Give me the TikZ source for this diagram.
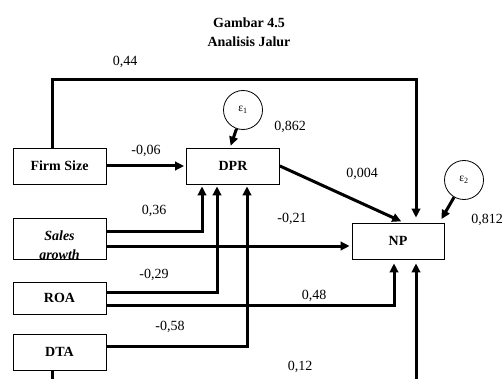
\documentclass[tikz,border=0pt]{standalone}
\usepackage{fontspec}
\setmainfont{Liberation Serif}
\usetikzlibrary{arrows.meta}
\newcommand{\Txt}{\fontsize{14}{19}\selectfont}

\begin{document}
\begin{tikzpicture}
[   x=1pt, y=-1pt,
    var/.style={draw, line width=0.8pt, minimum width=93pt, minimum height=36pt, inner sep=0, font=\Txt\bfseries},
    err/.style={draw, circle, line width=0.8pt, minimum size=39pt, inner sep=0, font=\fontsize{11.5}{13}\selectfont},
    coef/.style={inner sep=0, font=\Txt},
    arr/.style={line width=3pt, -{Triangle[length=9pt,width=8.5pt]}, shorten >=2pt},
    link/.style={line width=3pt}
]
    \useasboundingbox (0,0) rectangle (502,379);

    \node[font=\Txt\bfseries] (title) at (249,23) {Gambar 4.5};
    \node[font=\Txt\bfseries] (subtitle) at (249,42) {Analisis Jalur};

    % variables
    \node[var] (FS) at (59.5,166) {Firm Size};
    \node[var] (DPR) at (233,166) {DPR};
    \begin{scope}
        \clip (13,218) rectangle (106,259);
        \node[font=\Txt\bfseries\itshape, align=center, inner sep=0] (SGtext) at (59.5,246.5) {Sales\\growth};
    \end{scope}
    \node[var, minimum height=41pt] (SG) at (59.5,238.5) {};
    \node[var, minimum height=32pt] (ROA) at (59.5,298) {ROA};
    \node[var] (DTA) at (59.5,352) {DTA};
    \node[var, minimum width=92pt] (NP) at (398,241) {NP};

    % errors
    \node[err] (e1) at (243,110) {ε\textsubscript{1}};
    \node[err] (e2) at (464,180) {ε\textsubscript{2}};

    % free ends below the page
    \coordinate (dtaout) at (52,382);
    \coordinate (npin) at (416,382);
    \coordinate (sgnp) at ([yshift=-5pt]NP.west);

    % paths
    \draw[arr, shorten >=5pt] ([xshift=-7.5pt]FS.north) -- ++(0,-68) -| ([xshift=18pt]NP.north);
    \draw[arr] (FS) -- (DPR);
    \draw[arr] (e1) -- ([xshift=-3pt]DPR.north);
    \draw[arr, shorten >=3pt] (DPR.east) -- ([xshift=6pt]NP.north);
    \draw[arr, shorten >=4pt] (e2) -- ([xshift=-5pt]NP.north east);
    \draw[arr] ([yshift=7.5pt]SG.east) -| ([xshift=-31pt]DPR.south);
    \draw[arr] (SG.east |- sgnp) -- (sgnp);
    \draw[arr] ([yshift=6pt]ROA.east) -| ([xshift=-16pt]DPR.south);
    \draw[arr, shorten >=4pt] ([yshift=-7.5pt]ROA.east) -| ([xshift=-4pt]NP.south);
    \draw[arr] ([yshift=6pt]DTA.east) -| ([xshift=14pt]DPR.south);
    \draw[link] ([xshift=-7.5pt]DTA.south) -- (dtaout);
    \draw[arr, shorten >=4pt] (npin) -- ([xshift=18pt]NP.south);

    % coefficients
    \foreach \n/\x/\y/\v in {c1/125/62/{0,44}, c2/290/127/{0,862}, c3/146/151/{-0,06},
        c4/362/174/{0,004}, c5/154/211/{0,36}, c6/292/219/{-0,21}, c7/487/220/{0,812},
        c8/154/275/{-0,29}, c9/314/296/{0,48}, c10/170/327/{-0,58}, c11/300/367/{0,12}}
    {   \node[coef] (\n) at (\x,\y) {\v};
    }
\end{tikzpicture}
\end{document}
